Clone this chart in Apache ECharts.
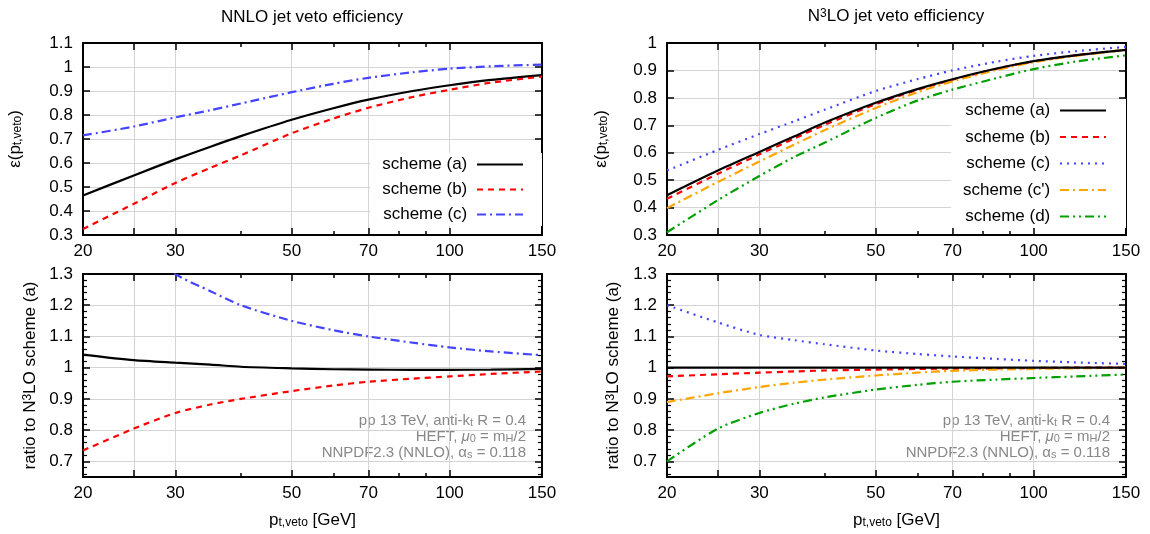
<!DOCTYPE html>
<html><head><meta charset="utf-8">
<script src="https://cdn.jsdelivr.net/npm/echarts@6/dist/echarts.min.js"></script>
<style>html,body{margin:0;padding:0;background:#fff}#c{width:1150px;height:534px}</style>
</head><body><div id="c"></div><script>
// ---------------- data ----------------
const ptVeto = [20, 25, 30, 35, 40, 50, 60, 70, 85, 100, 120, 150];
// NNLO efficiencies (top-left)
const nnloSchemeA = [0.465, 0.548, 0.615, 0.668, 0.712, 0.780, 0.828, 0.864, 0.900, 0.924, 0.946, 0.966];
const nnloSchemeB = [0.325, 0.430, 0.517, 0.580, 0.632, 0.724, 0.785, 0.830, 0.875, 0.905, 0.935, 0.960];
const nnloSchemeC = [0.715, 0.752, 0.790, 0.820, 0.848, 0.895, 0.930, 0.955, 0.978, 0.993, 1.003, 1.010];
// N3LO efficiencies (top-right)
const n3loSchemeA  = [0.445, 0.535, 0.603, 0.660, 0.710, 0.782, 0.832, 0.868, 0.907, 0.934, 0.955, 0.975];
const n3loSchemeB  = [0.432, 0.523, 0.594, 0.652, 0.702, 0.777, 0.829, 0.866, 0.906, 0.933, 0.955, 0.975];
const n3loSchemeC  = [0.535, 0.610, 0.668, 0.715, 0.757, 0.825, 0.868, 0.900, 0.932, 0.953, 0.970, 0.986];
const n3loSchemeCp = [0.398, 0.493, 0.568, 0.630, 0.683, 0.763, 0.820, 0.860, 0.902, 0.930, 0.953, 0.975];
const n3loSchemeD  = [0.310, 0.427, 0.515, 0.585, 0.637, 0.727, 0.790, 0.830, 0.872, 0.905, 0.932, 0.955];
// ratios of NNLO schemes to N3LO scheme (a) (bottom-left)
const ratioNnloA = [1.042, 1.024, 1.016, 1.010, 1.003, 0.998, 0.995, 0.994, 0.993, 0.993, 0.994, 0.996];
const ratioNnloB = [0.735, 0.805, 0.855, 0.882, 0.900, 0.925, 0.943, 0.955, 0.965, 0.972, 0.980, 0.988];
const ratioNnloC = [1.610, 1.410, 1.300, 1.245, 1.200, 1.150, 1.120, 1.100, 1.080, 1.065, 1.052, 1.040];
// ratios of N3LO schemes to N3LO scheme (a) (bottom-right)
const ratioN3loA  = [1.000, 1.000, 1.000, 1.000, 1.000, 1.000, 1.000, 1.000, 1.000, 1.000, 1.000, 1.000];
const ratioN3loB  = [0.972, 0.979, 0.984, 0.988, 0.991, 0.994, 0.996, 0.997, 0.998, 0.999, 1.000, 1.000];
const ratioN3loC  = [1.200, 1.145, 1.105, 1.088, 1.075, 1.055, 1.044, 1.036, 1.028, 1.022, 1.017, 1.012];
const ratioN3loCp = [0.890, 0.918, 0.938, 0.952, 0.962, 0.975, 0.984, 0.990, 0.994, 0.996, 0.998, 1.000];
const ratioN3loD  = [0.700, 0.805, 0.855, 0.885, 0.905, 0.930, 0.945, 0.955, 0.962, 0.967, 0.972, 0.978];
// ticks
const xMajorTicks = [20, 25, 30, 50, 70, 100, 150];
const xTickLabels = [20, 30, 50, 70, 100, 150];
const xMinorTicks = [40, 60, 80, 90];
const yRatioTicks = [0.7, 0.8, 0.9, 1.0, 1.1, 1.2, 1.3];
const yRatioMinor = [0.66, 0.68, 0.72, 0.74, 0.76, 0.78, 0.82, 0.84, 0.86, 0.88, 0.92, 0.94, 0.96, 0.98,
                     1.02, 1.04, 1.06, 1.08, 1.12, 1.14, 1.16, 1.18, 1.22, 1.24, 1.26, 1.28];
// legend labels
const legendNames = ['scheme (a)', 'scheme (b)', 'scheme (c)', "scheme (c')", 'scheme (d)'];

// ---------------- chart ----------------
const FONT = '"Liberation Sans", Arial, Helvetica, sans-serif';
const L = v => Math.log10(v);
const GRID_COLOR = '#d4d4d4';
const grids = [
  {left: 83, top: 43, width: 459, height: 192},
  {left: 667, top: 43, width: 459, height: 192},
  {left: 83, top: 274, width: 459, height: 203},
  {left: 667, top: 274, width: 459, height: 203}
];
const richName = {
  n:   {fontSize: 17, fontFamily: FONT, color: '#000'},
  sub: {fontSize: 12, fontFamily: FONT, color: '#000', verticalAlign: 'bottom', lineHeight: 12, padding: [10, 0, 0, 0]},
  sup: {fontSize: 12, fontFamily: FONT, color: '#000', verticalAlign: 'top', lineHeight: 12, padding: [0, 0, 9, 0]}
};
const xAxes = [], yAxes = [], yMain = [];
grids.forEach((g, gi) => {
  const isBottom = gi >= 2;
  const base = {type: 'value', gridIndex: gi, min: L(20), max: L(150)};
  const frame = {show: true, onZero: false, lineStyle: {color: '#000', width: 2}};
  const mainX = Object.assign({}, base, {
    position: 'bottom', axisLine: frame,
    axisTick: {show: true, inside: true, length: 7, customValues: xMajorTicks.map(L), lineStyle: {color: '#000', width: 1.5}},
    axisLabel: {show: true, customValues: xTickLabels.map(L), formatter: v => String(Math.round(Math.pow(10, v))),
                fontSize: 17, color: '#000', fontFamily: FONT, margin: 8},
    splitLine: {show: true, lineStyle: {color: GRID_COLOR, width: 1}}
  });
  if (isBottom) {
    mainX.name = '{n|p}{sub|t,veto}{n| [GeV]}';
    mainX.nameLocation = 'middle';
    mainX.nameGap = 35;
    mainX.nameTextStyle = {fontSize: 17, fontFamily: FONT, color: '#000', rich: richName};
  }
  xAxes.push(mainX);
  xAxes.push(Object.assign({}, base, {
    position: 'top', axisLine: frame,
    axisTick: {show: true, inside: true, length: 7, customValues: xMajorTicks.map(L), lineStyle: {color: '#000', width: 1.5}},
    axisLabel: {show: false}, splitLine: {show: false}
  }));
  ['bottom', 'top'].forEach(pos => xAxes.push(Object.assign({}, base, {
    position: pos, axisLine: {show: false},
    axisTick: {show: true, inside: true, length: 4, customValues: xMinorTicks.map(L), lineStyle: {color: '#000', width: 1.5}},
    axisLabel: {show: false}, splitLine: {show: false}
  })));

  let ybase;
  if (gi === 0) ybase = {min: 0.3, max: 1.1, interval: 0.1};
  else if (gi === 1) ybase = {min: 0.3, max: 1.0, interval: 0.1};
  else ybase = {min: 0.65, max: 1.3};
  ybase = Object.assign({type: 'value', gridIndex: gi}, ybase);
  const yTick = {show: true, inside: true, length: 7, lineStyle: {color: '#000', width: 1.5}};
  const yLab = {show: true, fontSize: 17, color: '#000', fontFamily: FONT, margin: 10,
                formatter: v => String(parseFloat(v.toFixed(2)))};
  if (isBottom) { yTick.customValues = yRatioTicks; yLab.customValues = yRatioTicks; }
  const mainY = Object.assign({}, ybase, {
    position: 'left', axisLine: frame, axisTick: yTick, axisLabel: yLab,
    splitLine: {show: true, lineStyle: {color: GRID_COLOR, width: 1}},
    nameLocation: 'middle',
    nameTextStyle: {fontSize: 17, fontFamily: FONT, color: '#000', rich: richName}
  });
  if (!isBottom) { mainY.name = '{n|ε(p}{sub|t,veto}{n|)}'; mainY.nameGap = gi === 0 ? 59 : 57; }
  else { mainY.name = '{n|ratio to N}{sup|3}{n|LO scheme (a)}'; mainY.nameGap = gi === 2 ? 44 : 45; }
  yMain.push(yAxes.length);
  yAxes.push(mainY);
  yAxes.push(Object.assign({}, ybase, {
    position: 'right', axisLine: frame, axisTick: Object.assign({}, yTick), axisLabel: {show: false}, splitLine: {show: false}
  }));
  if (isBottom) {
    ['left', 'right'].forEach(pos => yAxes.push(Object.assign({}, ybase, {
      position: pos, axisLine: {show: false},
      axisTick: {show: true, inside: true, length: 4, customValues: yRatioMinor, lineStyle: {color: '#000', width: 1.2}},
      axisLabel: {show: false}, splitLine: {show: false}
    })));
  }
});

const STY = {
  a:  {color: '#000000', type: 'solid'},
  b:  {color: '#ff0000', type: [6, 5]},
  cDD:{color: '#4444ff', type: [9, 4, 2, 4]},
  cDot:{color: '#4444ff', type: [2, 5]},
  cp: {color: '#ffa500', type: [9, 4, 2, 4]},
  d:  {color: '#00a000', type: [9, 4, 2, 4, 2, 4]}
};
function mk(name, gi, vals, sty, z) {
  return {
    name, type: 'line', xAxisIndex: gi * 4, yAxisIndex: yMain[gi],
    data: ptVeto.map((p, i) => [L(p), vals[i]]),
    showSymbol: false, symbol: 'none', smooth: 0.25, clip: true,
    lineStyle: {color: sty.color, width: 2.2, type: sty.type},
    itemStyle: {color: sty.color}, z: z || 2, silent: true
  };
}
const series = [
  mk('L:scheme (a)', 0, nnloSchemeA, STY.a),
  mk('L:scheme (b)', 0, nnloSchemeB, STY.b),
  mk('L:scheme (c)', 0, nnloSchemeC, STY.cDD),
  mk('R:scheme (a)', 1, n3loSchemeA, STY.a, 3),
  mk('R:scheme (b)', 1, n3loSchemeB, STY.b),
  mk('R:scheme (c)', 1, n3loSchemeC, STY.cDot),
  mk("R:scheme (c')", 1, n3loSchemeCp, STY.cp),
  mk('R:scheme (d)', 1, n3loSchemeD, STY.d),
  mk('BL:a', 2, ratioNnloA, STY.a),
  mk('BL:b', 2, ratioNnloB, STY.b),
  mk('BL:c', 2, ratioNnloC, STY.cDD),
  mk('BR:a', 3, ratioN3loA, STY.a, 3),
  mk('BR:b', 3, ratioN3loB, STY.b),
  mk('BR:c', 3, ratioN3loC, STY.cDot),
  mk("BR:c'", 3, ratioN3loCp, STY.cp),
  mk('BR:d', 3, ratioN3loD, STY.d)
];

const legendCommon = {
  orient: 'vertical', align: 'right', itemWidth: 46, itemHeight: 14,
  textStyle: {fontSize: 17, fontFamily: FONT, color: '#000'},
  formatter: n => n.split(':')[1] + ' ',
  itemStyle: {opacity: 0, borderWidth: 0},
  backgroundColor: '#ffffff', selectedMode: false
};
const legends = [
  Object.assign({}, legendCommon, {
    data: legendNames.slice(0, 3).map(n => 'L:' + n),
    right: 608, top: 153, itemGap: 8, padding: [3, 18, 3, 12]
  }),
  Object.assign({}, legendCommon, {
    data: legendNames.map(n => 'R:' + n),
    right: 24, top: 99, itemGap: 9.5, padding: [3, 19, 3, 12]
  })
];

const annRich = {
  n:   {fontSize: 15, fontFamily: FONT, fill: '#888', color: '#888'},
  nm:  {fontSize: 15, fontFamily: FONT, fill: '#888', color: '#888', fontStyle: 'italic'},
  sub: {fontSize: 11, fontFamily: FONT, fill: '#888', color: '#888', verticalAlign: 'bottom', lineHeight: 11, padding: [9, 0, 0, 0]}
};
function annot(xRight) {
  const lines = [
    ['{n|pp 13 TeV, anti-k}{sub|t}{n| R = 0.4}', 421],
    ['{n|HEFT, }{nm|μ}{sub|0}{n| = m}{sub|H}{n|/2}', 437],
    ['{n|NNPDF2.3 (NNLO), α}{sub|s}{n| = 0.118}', 453]
  ];
  return lines.map(([t, y]) => ({
    type: 'text', x: xRight, y: y, silent: true,
    style: {text: t, rich: annRich, fontSize: 15, fontFamily: FONT, fill: '#888', align: 'right', verticalAlign: 'middle'}
  }));
}
const titleRich = {
  n:   {fontSize: 17, fontFamily: FONT, fill: '#000', color: '#000'},
  sup: {fontSize: 12, fontFamily: FONT, fill: '#000', color: '#000', verticalAlign: 'top', lineHeight: 12, padding: [0, 0, 10, 0]}
};
const graphics = [
  {type: 'text', x: 312, y: 17, silent: true,
   style: {text: '{n|NNLO jet veto efficiency}', rich: titleRich, fontSize: 17, fontFamily: FONT, fill: '#000', align: 'center', verticalAlign: 'middle'}},
  {type: 'text', x: 896, y: 16, silent: true,
   style: {text: '{n|N}{sup|3}{n|LO jet veto efficiency}', rich: titleRich, fontSize: 17, fontFamily: FONT, fill: '#000', align: 'center', verticalAlign: 'middle'}}
].concat(annot(526), annot(1110));

const chart = echarts.init(document.getElementById('c'), null, {renderer: 'canvas'});
chart.setOption({
  backgroundColor: '#ffffff',
  animation: false,
  grid: grids,
  xAxis: xAxes,
  yAxis: yAxes,
  legend: legends,
  series: series,
  graphic: graphics
});
</script></body></html>
